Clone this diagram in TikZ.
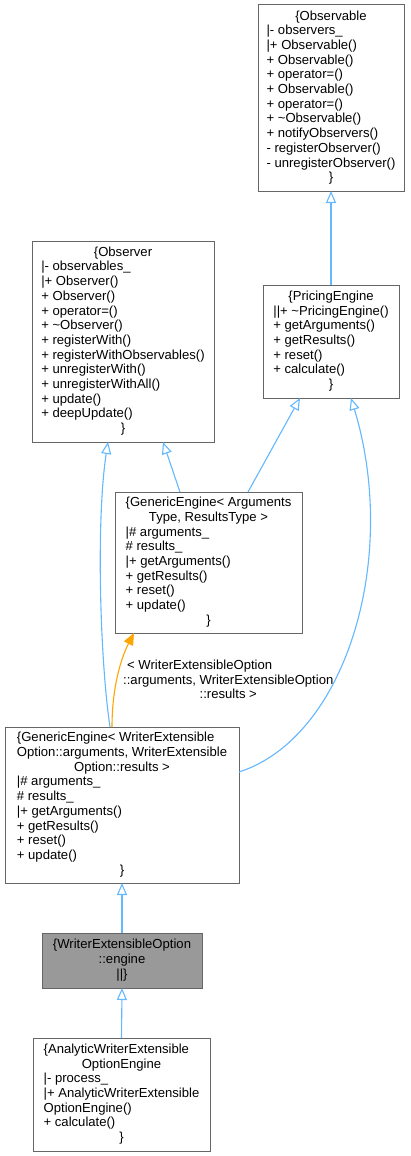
\documentclass[tikz,border=0pt]{standalone}
\usepackage{fontspec}
\setmainfont{Liberation Sans}
\usetikzlibrary{arrows.meta,calc}
\definecolor{edgeblue}{HTML}{63B8FF}
\definecolor{edgeorange}{HTML}{FFA500}
\definecolor{boxgray}{HTML}{666666}
\definecolor{fillgray}{HTML}{999999}
\newcommand\ctr[1]{\multicolumn{1}{@{}c@{}}{#1}}
\tikzset{
 cls/.style={draw=boxgray, fill=white, line width=1pt, inner sep=0pt, outer sep=0pt, font=\fontsize{13.1}{14.7}\selectfont},
 lbl/.style={inner sep=0pt, font=\fontsize{13.1}{14.7}\selectfont},
 inh/.style={draw=edgeblue, line width=1.1pt, -{Triangle[open,length=12pt,width=10pt,fill=white]}},
 tmpl/.style={draw=edgeorange, line width=1.1pt, -{Triangle[length=12pt,width=10pt]}},
}
\begin{document}
\begin{tikzpicture}[x=1pt,y=-1pt]
\fill[white] (0,0) rectangle (410,1156);
\useasboundingbox (0,0) rectangle (410,1156);

\node[cls, minimum width=146pt, minimum height=186pt] (obs) at (331,98) {\begin{tabular}{@{}l@{}}
\ctr{\{Observable}\\
|- observers\_\\
|+ Observable()\\
+ Observable()\\
+ operator=()\\
+ Observable()\\
+ operator=()\\
+ \textasciitilde Observable()\\
+ notifyObservers()\\
- registerObserver()\\
- unregisterObserver()\\
\ctr{\}}
\end{tabular}};

\node[cls, minimum width=182pt, minimum height=201pt] (obsr) at (123,341.5) {\begin{tabular}{@{}l@{}}
\ctr{\{Observer}\\
|- observables\_\\
|+ Observer()\\
+ Observer()\\
+ operator=()\\
+ \textasciitilde Observer()\\
+ registerWith()\\
+ registerWithObservables()\\
+ unregisterWith()\\
+ unregisterWithAll()\\
+ update()\\
+ deepUpdate()\\
\ctr{\}}
\end{tabular}};

\node[cls, minimum width=136pt, minimum height=113pt] (pe) at (331,341.5) {\begin{tabular}{@{}l@{}}
\ctr{\{PricingEngine}\\
||+ \textasciitilde PricingEngine()\\
+ getArguments()\\
+ getResults()\\
+ reset()\\
+ calculate()\\
\ctr{\}}
\end{tabular}};

\node[cls, minimum width=187pt, minimum height=141pt] (gea) at (208.5,562.5) {\begin{tabular}{@{}l@{}}
\{GenericEngine< Arguments\\
\ctr{Type, ResultsType >}\\
|\# arguments\_\\
\# results\_\\
|+ getArguments()\\
+ getResults()\\
+ reset()\\
+ update()\\
\ctr{\}}
\end{tabular}};

\node[cls, minimum width=234pt, minimum height=156pt] (gew) at (122,805) {\begin{tabular}{@{}l@{}}
\{GenericEngine< WriterExtensible\\
Option::arguments, WriterExtensible\\
\ctr{Option::results >}\\
|\# arguments\_\\
\# results\_\\
|+ getArguments()\\
+ getResults()\\
+ reset()\\
+ update()\\
\ctr{\}}
\end{tabular}};

\node[cls, fill=fillgray, minimum width=160pt, minimum height=55pt] (eng) at (122,960.5) {\begin{tabular}{@{}c@{}}
\{WriterExtensibleOption\\
::engine\\
||\}
\end{tabular}};

\node[cls, minimum width=177pt, minimum height=113pt] (ana) at (121.5,1094.5) {\begin{tabular}{@{}l@{}}
\{AnalyticWriterExtensible\\
\ctr{OptionEngine}\\
|- process\_\\
|+ AnalyticWriterExtensible\\
OptionEngine()\\
+ calculate()\\
\ctr{\}}
\end{tabular}};

\node[lbl, anchor=north west] (lab) at (123,659) {\begin{tabular}{@{}l@{}}
\hspace{4pt}< WriterExtensibleOption\\
::arguments, WriterExtensibleOption\\
\ctr{::results >}
\end{tabular}};

\draw[inh] (pe.north) -- (obs.south);
\draw[inh] ($(gea.north west)+(65,0)$) -- ($(obsr.south west)+(131,0)$);
\draw[inh] ($(gea.north west)+(133,0)$) -- ($(pe.south west)+(37,0)$);
\draw[inh] ($(gew.north west)+(105,0)$) .. controls (100,660) and (96,520) .. ($(obsr.south west)+(76,0)$);
\draw[inh] ($(gew.north east)+(0,45)$) .. controls (345,738) and (400,560) .. ($(pe.south west)+(88,0)$);
\draw[tmpl] ($(gew.north west)+(107,0)$) .. controls (112,690) and (120,660) .. ($(gea.south west)+(19,0)$);
\draw[inh] (eng.north) -- (gew.south);
\draw[inh] (ana.north) -- (eng.south);
\end{tikzpicture}
\end{document}
